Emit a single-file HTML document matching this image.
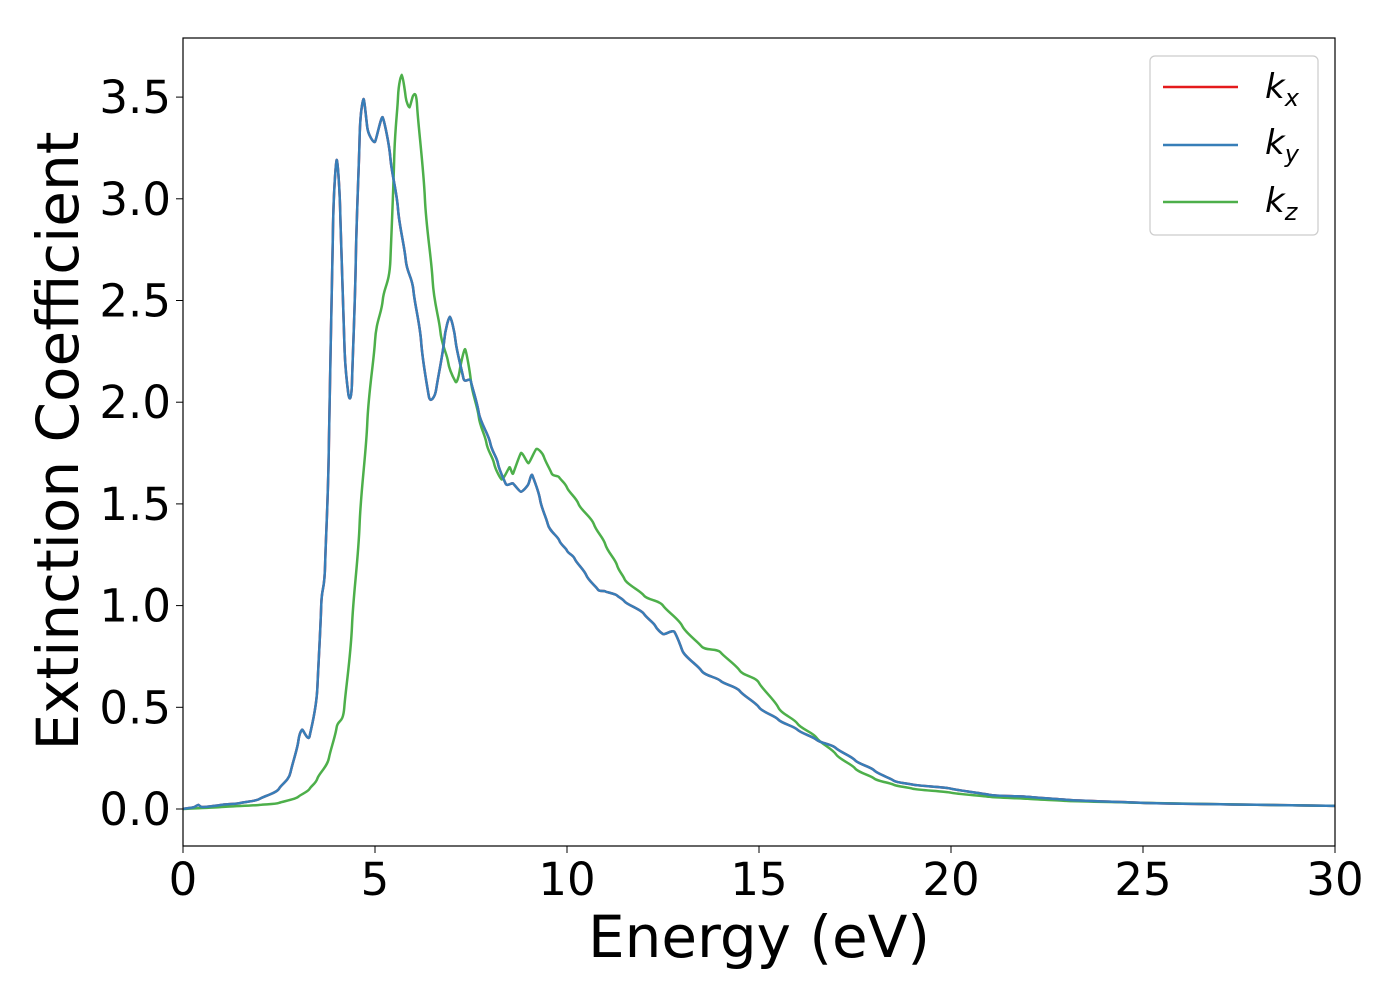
<!DOCTYPE html>
<html><head><meta charset="utf-8"><style>
body{margin:0;background:#fff;}
svg text{font-family:"DejaVu Sans","Liberation Sans",sans-serif;fill:#000;}
</style></head><body>
<svg id="chart" width="1400" height="1000" xmlns="http://www.w3.org/2000/svg">
<rect x="0" y="0" width="1400" height="1000" fill="#fff"/>
<g id="plot"></g>
<rect x="183" y="38" width="1152" height="808" fill="none" stroke="#000" stroke-width="1.2"/>
<g id="ticks"></g>
<text x="759" y="957" font-size="58" text-anchor="middle">Energy (eV)</text>
<text transform="translate(78,441) rotate(-90)" font-size="58" text-anchor="middle">Extinction Coefficient</text>
<g>
<rect x="1150" y="56" width="168" height="179" rx="5" fill="#fff" stroke="#ccc" stroke-width="1.2"/>
<line x1="1163" y1="87" x2="1238" y2="87" stroke="#e41a1c" stroke-width="2.5"/>
<text x="1265" y="98" font-size="34" font-style="italic">k<tspan font-size="24" dy="8">x</tspan></text>
<line x1="1163" y1="145" x2="1238" y2="145" stroke="#377eb8" stroke-width="2.5"/>
<text x="1265" y="154" font-size="34" font-style="italic">k<tspan font-size="24" dy="8">y</tspan></text>
<line x1="1163" y1="202" x2="1238" y2="202" stroke="#4daf4a" stroke-width="2.5"/>
<text x="1265" y="212" font-size="34" font-style="italic">k<tspan font-size="24" dy="8">z</tspan></text>
</g>
</svg>
<script>
const energyXY=[0,0.3,0.4,0.5,1,1.5,2,2.5,2.8,3.0,3.1,3.3,3.5,3.6,3.7,3.8,3.9,4.0,4.1,4.2,4.3,4.4,4.5,4.6,4.7,4.8,5.0,5.2,5.4,5.6,5.8,6.0,6.2,6.4,6.6,6.8,6.95,7.1,7.3,7.5,7.7,8.0,8.2,8.4,8.6,8.8,9.0,9.1,9.3,9.5,9.8,10,10.2,10.5,10.8,11.0,11.3,11.5,12,12.3,12.5,12.8,13,13.5,14,14.5,15,15.5,16,16.5,17,17.5,18,18.5,19,20,21,22,23,25,30];
const kxy=[0,0.01,0.02,0.01,0.02,0.03,0.05,0.1,0.18,0.33,0.39,0.36,0.6,1.0,1.2,1.8,2.8,3.19,2.9,2.3,2.05,2.1,2.7,3.3,3.49,3.35,3.28,3.4,3.2,2.95,2.7,2.55,2.3,2.03,2.07,2.3,2.42,2.3,2.12,2.1,1.95,1.8,1.7,1.6,1.6,1.56,1.6,1.64,1.52,1.4,1.32,1.27,1.23,1.15,1.08,1.07,1.05,1.02,0.96,0.9,0.86,0.87,0.78,0.68,0.63,0.58,0.5,0.44,0.39,0.34,0.3,0.24,0.19,0.14,0.12,0.1,0.07,0.06,0.045,0.03,0.015];
const energyZ=[0,1,2,2.5,3,3.3,3.5,3.8,4.0,4.2,4.4,4.6,4.8,5.0,5.2,5.4,5.5,5.6,5.7,5.8,5.9,6.0,6.1,6.3,6.5,6.7,6.9,7.1,7.2,7.35,7.5,7.7,7.9,8.1,8.3,8.5,8.6,8.8,9.0,9.2,9.4,9.6,9.8,10,10.3,10.7,11,11.3,11.5,12,12.5,13,13.5,14,14.5,15,15.5,16,16.5,17,17.5,18,18.5,19,20,21,22,23,25,30];
const kz=[0,0.01,0.02,0.03,0.06,0.1,0.15,0.25,0.4,0.5,0.9,1.4,1.9,2.3,2.5,2.7,3.2,3.5,3.61,3.5,3.45,3.51,3.45,3.0,2.6,2.35,2.2,2.1,2.15,2.26,2.1,1.93,1.8,1.7,1.62,1.68,1.65,1.75,1.7,1.77,1.73,1.65,1.63,1.58,1.5,1.4,1.3,1.2,1.13,1.05,1.0,0.9,0.8,0.77,0.68,0.62,0.5,0.42,0.35,0.27,0.2,0.15,0.12,0.1,0.08,0.06,0.05,0.04,0.03,0.015];
const xTicks=[0,5,10,15,20,25,30];
const yTicks=[0.0,0.5,1.0,1.5,2.0,2.5,3.0,3.5];
const NS="http://www.w3.org/2000/svg";
const X=v=>183+v*(1152/30);
const Y=v=>809-v*203.4;
const plot=document.getElementById('plot');
function smoothPath(pts){
  let d='M'+pts[0][0].toFixed(1)+','+pts[0][1].toFixed(1);
  for(let i=0;i<pts.length-1;i++){
    const p0=pts[Math.max(0,i-1)],p1=pts[i],p2=pts[i+1],p3=pts[Math.min(pts.length-1,i+2)];
    const t=0.35;
    const c1=[p1[0]+(p2[0]-p0[0])*t/2*0.5*2/2, p1[1]+(p2[1]-p0[1])*t/2];
    const c2=[p2[0]-(p3[0]-p1[0])*t/2*0.5*2/2, p2[1]-(p3[1]-p1[1])*t/2];
    d+='C'+c1[0].toFixed(1)+','+c1[1].toFixed(1)+' '+c2[0].toFixed(1)+','+c2[1].toFixed(1)+' '+p2[0].toFixed(1)+','+p2[1].toFixed(1);
  }
  return d;
}
function line(xs,ys,color,name){
  const p=document.createElementNS(NS,'path');
  p.setAttribute('d',smoothPath(xs.map((x,i)=>[X(x),Y(ys[i])])));
  p.setAttribute('fill','none');p.setAttribute('stroke',color);p.setAttribute('stroke-width','2.5');p.setAttribute('stroke-linejoin','round');
  
  
  plot.appendChild(p);
}
line(energyXY,kxy,'#e41a1c','series-kx');
line(energyZ,kz,'#4daf4a','series-kz');
line(energyXY,kxy,'#377eb8','series-ky');
const tg=document.getElementById('ticks');
xTicks.forEach(v=>{
  const l=document.createElementNS(NS,'line');
  l.setAttribute('x1',X(v));l.setAttribute('x2',X(v));l.setAttribute('y1',846);l.setAttribute('y2',853);l.setAttribute('stroke','#000');
  
  
  tg.appendChild(l);
  const t=document.createElementNS(NS,'text');
  t.setAttribute('x',X(v));t.setAttribute('y',895);t.setAttribute('font-size','45');t.setAttribute('text-anchor','middle');
  t.textContent=v;
  
  
  tg.appendChild(t);
});
yTicks.forEach(v=>{
  const l=document.createElementNS(NS,'line');
  l.setAttribute('x1',176);l.setAttribute('x2',183);l.setAttribute('y1',Y(v));l.setAttribute('y2',Y(v));l.setAttribute('stroke','#000');
  
  
  tg.appendChild(l);
  const t=document.createElementNS(NS,'text');
  t.setAttribute('x',171);t.setAttribute('y',Y(v)+16);t.setAttribute('font-size','45');t.setAttribute('text-anchor','end');
  t.textContent=v.toFixed(1);
  
  
  tg.appendChild(t);
});
</script>
</body></html>
